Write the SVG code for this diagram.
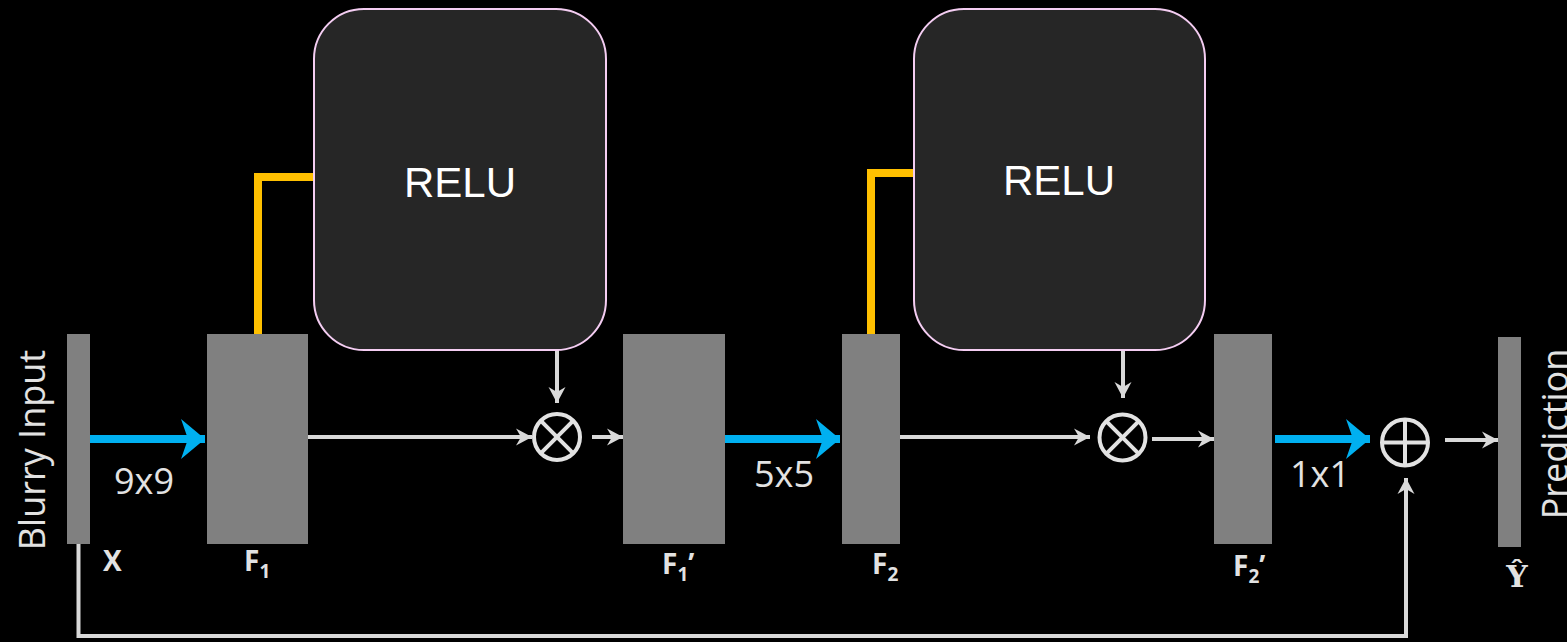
<svg xmlns="http://www.w3.org/2000/svg" width="1567" height="642" viewBox="0 0 1567 642">
<defs>
<style>
.bar{fill:#808080;}
.relu{fill:#262626;stroke:#f4cdf2;stroke-width:2;}
.relut{font-family:"Liberation Sans",Arial,sans-serif;font-size:42px;fill:#ffffff;text-anchor:middle;}
.lab{font-family:"Open Sans","DejaVu Sans",sans-serif;font-size:36px;fill:#e2e2e2;}
.bl{font-family:"Open Sans","DejaVu Sans",sans-serif;font-size:28px;font-weight:bold;fill:#e2e2e2;}
.sub{font-size:19px;}
.yh{font-family:"DejaVu Serif","Liberation Serif",serif;font-size:30px;font-weight:bold;fill:#e2e2e2;}
.gl{stroke:#d9d9d9;stroke-width:4;fill:none;}
.blue{stroke:#00b0f0;stroke-width:8;fill:none;}
.org{stroke:#ffc000;stroke-width:8;fill:none;}
.op{stroke:#e2e2e2;stroke-width:4;fill:none;}
</style>
<marker id="ga" markerUnits="userSpaceOnUse" markerWidth="20" markerHeight="20" viewBox="-17 -10 20 20" refX="0" refY="0" orient="auto">
<path d="M0,0 L-16,-8.5 L-11,0 L-16,8.5 Z" fill="#d9d9d9"/>
</marker>
<marker id="ba" markerUnits="userSpaceOnUse" markerWidth="30" markerHeight="44" viewBox="-25 -22 27 44" refX="0" refY="0" orient="auto">
<path d="M0,0 L-24,-20 L-17,0 L-24,20 Z" fill="#00b0f0"/>
</marker>
</defs>
<rect x="0" y="0" width="1567" height="642" fill="#000000"/>

<g id="connectors">
<polyline class="org" points="258,334 258,177 313,177"/>
<polyline class="org" points="871,334 871,173 913,173"/>
<line class="blue" x1="90" y1="439" x2="205" y2="439" marker-end="url(#ba)"/>
<line class="blue" x1="725" y1="439" x2="840" y2="439" marker-end="url(#ba)"/>
<line class="blue" x1="1275" y1="439" x2="1370" y2="439" marker-end="url(#ba)"/>
<line class="gl" x1="308" y1="437" x2="532" y2="437" marker-end="url(#ga)"/>
<line class="gl" x1="592" y1="437" x2="623" y2="437" marker-end="url(#ga)"/>
<line class="gl" x1="557" y1="350" x2="557" y2="403" marker-end="url(#ga)"/>
<line class="gl" x1="900" y1="437" x2="1090" y2="437" marker-end="url(#ga)"/>
<line class="gl" x1="1152" y1="439" x2="1214" y2="439" marker-end="url(#ga)"/>
<line class="gl" x1="1123" y1="350" x2="1123" y2="398" marker-end="url(#ga)"/>
<line class="gl" x1="1445" y1="440" x2="1498" y2="440" marker-end="url(#ga)"/>
<polyline class="gl" points="78.5,544 78.5,636 1406,636 1406,478" marker-end="url(#ga)"/>
</g>

<g id="X">
<rect class="bar" x="67" y="334" width="23" height="210"/>
<text class="lab" transform="translate(45,450) rotate(-90)" text-anchor="middle">Blurry Input</text>
<text class="bl" x="103" y="571">X</text>
</g>
<g id="F1">
<rect class="bar" x="207" y="334" width="101" height="210"/>
<text class="bl" x="244" y="571">F<tspan class="sub" dy="7">1</tspan></text>
</g>
<g id="relu1">
<rect class="relu" x="314" y="9" width="292" height="341" rx="50" ry="50"/>
<text class="relut" x="460" y="197">RELU</text>
</g>
<g id="mul1">
<circle class="op" cx="557" cy="437" r="23"/>
<line class="op" x1="540.7" y1="420.7" x2="573.3" y2="453.3"/>
<line class="op" x1="573.3" y1="420.7" x2="540.7" y2="453.3"/>
</g>
<g id="F1p">
<rect class="bar" x="623" y="334" width="102" height="210"/>
<text class="bl" x="662" y="574">F<tspan class="sub" dy="7">1</tspan><tspan dy="-7">’</tspan></text>
</g>
<text class="lab" x="754" y="487">5x5</text>
<text class="lab" x="114" y="494">9x9</text>
<g id="F2">
<rect class="bar" x="842" y="334" width="58" height="210"/>
<text class="bl" x="872" y="574">F<tspan class="sub" dy="7">2</tspan></text>
</g>
<g id="relu2">
<rect class="relu" x="914" y="9" width="291" height="341" rx="50" ry="50"/>
<text class="relut" x="1059" y="195">RELU</text>
</g>
<g id="mul2">
<circle class="op" cx="1122.5" cy="437.5" r="23"/>
<line class="op" x1="1106.2" y1="421.2" x2="1138.8" y2="453.8"/>
<line class="op" x1="1138.8" y1="421.2" x2="1106.2" y2="453.8"/>
</g>
<g id="F2p">
<rect class="bar" x="1214" y="334" width="58" height="210"/>
<text class="bl" x="1233" y="576">F<tspan class="sub" dy="7">2</tspan><tspan dy="-7">’</tspan></text>
</g>
<text class="lab" x="1290" y="487">1x1</text>
<g id="add">
<circle class="op" cx="1405" cy="442.5" r="23"/>
<line class="op" x1="1382" y1="442.5" x2="1428" y2="442.5"/>
<line class="op" x1="1405" y1="419.5" x2="1405" y2="465.5"/>
</g>
<g id="Y">
<rect class="bar" x="1498" y="337" width="23" height="210"/>
<text class="yh" x="1517" y="587" text-anchor="middle">Ŷ</text>
<text class="lab" transform="translate(1568,434) rotate(-90)" text-anchor="middle">Prediction</text>
</g>
</svg>
